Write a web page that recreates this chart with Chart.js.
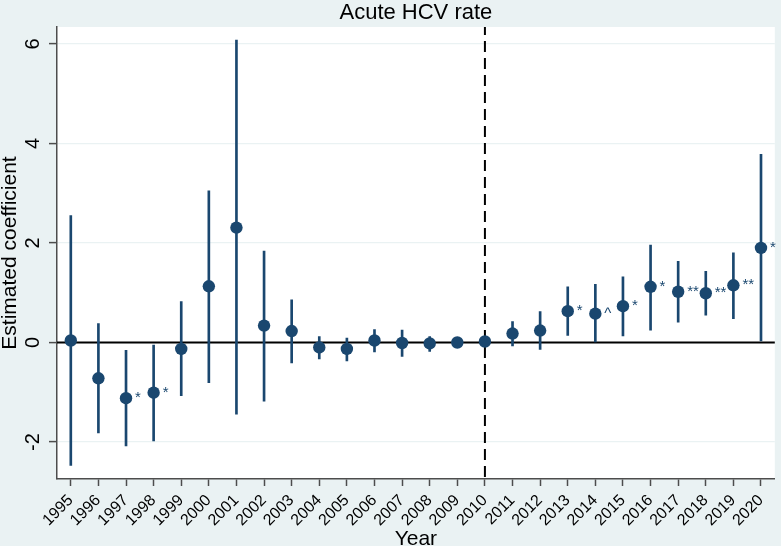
<!DOCTYPE html>
<html>
<head>
<meta charset="utf-8">
<script src="https://cdn.jsdelivr.net/npm/chart.js@4/dist/chart.umd.min.js"></script>
<style>
    html, body { margin: 0; padding: 0; background: #eaf2f3; }
    canvas { display: block; }
</style>
</head>
<body>
<canvas id="c" width="781" height="546"></canvas>
<script>
/* Event-study: коэффициенты по годам с 95% ДИ, Acute HCV rate */

const years = ['1995', '1996', '1997', '1998', '1999', '2000', '2001', '2002', '2003', '2004',
    '2005', '2006', '2007', '2008', '2009', '2010', '2011', '2012', '2013', '2014',
    '2015', '2016', '2017', '2018', '2019', '2020'];
const coef = [0.04, -0.72, -1.12, -1.01, -0.13, 1.13, 2.31, 0.34, 0.23, -0.10,
    -0.13, 0.04, -0.01, -0.02, 0.00, 0.02, 0.18, 0.24, 0.63, 0.58,
    0.73, 1.12, 1.02, 0.99, 1.15, 1.90];
const ciLow = [-2.47, -1.82, -2.08, -1.98, -1.07, -0.81, -1.44, -1.18, -0.41, -0.33,
    -0.37, -0.19, -0.28, -0.18, -0.02, 0.00, -0.07, -0.14, 0.14, 0.01,
    0.13, 0.25, 0.41, 0.55, 0.48, 0.03];
const ciHigh = [2.55, 0.38, -0.16, -0.05, 0.82, 3.05, 6.08, 1.84, 0.86, 0.12,
    0.09, 0.26, 0.25, 0.12, 0.02, 0.04, 0.42, 0.62, 1.12, 1.17,
    1.32, 1.96, 1.63, 1.43, 1.80, 3.78];
const sigMarks = ['', '', '*', '*', '', '', '', '', '', '',
    '', '', '', '', '', '', '', '', '*', '^',
    '*', '*', '**', '**', '**', '*'];
const yTicks = [-2, 0, 2, 4, 6];
const breakYear = '2010';

const NAVY = '#1a476f';
const BG = '#eaf2f3';
const AXIS = '#4d4d4d';
const FONT = '"Liberation Sans", Arial, sans-serif';

const decorPlugin = {
    id: 'decor',
    beforeDraw(chart) {
        const { ctx, chartArea: a } = chart;
        ctx.save();
        ctx.fillStyle = BG;
        ctx.fillRect(0, 0, chart.width, chart.height);
        ctx.fillStyle = '#fff';
        ctx.fillRect(a.left, a.top, a.right - a.left, a.bottom - a.top);
        ctx.restore();
    },
    beforeDatasetsDraw(chart) {
        const { ctx, chartArea: a, scales: { x, y } } = chart;
        ctx.save();
        // нулевая линия
        const y0 = y.getPixelForValue(0);
        ctx.strokeStyle = '#000';
        ctx.lineWidth = 2;
        ctx.beginPath();
        ctx.moveTo(a.left, y0);
        ctx.lineTo(a.right, y0);
        ctx.stroke();
        // пунктир на 2010
        const xb = x.getPixelForValue(years.indexOf(breakYear));
        ctx.setLineDash([11, 6]);
        ctx.lineDashOffset = 3;
        ctx.beginPath();
        ctx.moveTo(xb, a.top);
        ctx.lineTo(xb, a.bottom);
        ctx.stroke();
        ctx.restore();
    },
    afterDatasetsDraw(chart) {
        const { ctx, scales: { x, y } } = chart;
        ctx.save();
        ctx.fillStyle = NAVY;
        ctx.font = '15px ' + FONT;
        ctx.textAlign = 'left';
        ctx.textBaseline = 'middle';
        sigMarks.forEach((m, i) => {
            if (!m) return;
            ctx.fillText(m, x.getPixelForValue(i) + 9, y.getPixelForValue(coef[i]));
        });
        ctx.restore();
    },
    afterDraw(chart) {
        const { ctx, chartArea: a, scales: { x, y } } = chart;
        ctx.save();
        ctx.fillStyle = '#000';
        // заголовок
        ctx.font = '22px ' + FONT;
        ctx.textAlign = 'center';
        ctx.textBaseline = 'alphabetic';
        ctx.fillText('Acute HCV rate', (a.left + a.right) / 2, 19);
        // подпись оси X
        ctx.font = '21px ' + FONT;
        ctx.fillText('Year', (a.left + a.right) / 2, 545);
        // подпись оси Y
        ctx.save();
        ctx.translate(16, (a.top + a.bottom) / 2);
        ctx.rotate(-Math.PI / 2);
        ctx.fillText('Estimated coefficient', 0, 0);
        ctx.restore();
        // метки оси Y (вертикально)
        ctx.font = '20px ' + FONT;
        for (const v of yTicks) {
            ctx.save();
            ctx.translate(39, y.getPixelForValue(v));
            ctx.rotate(-Math.PI / 2);
            ctx.fillText(String(v), 0, 0);
            ctx.restore();
        }
        // метки оси X под 45°
        ctx.font = '16px ' + FONT;
        ctx.textAlign = 'right';
        years.forEach((yr, i) => {
            ctx.save();
            ctx.translate(x.getPixelForValue(i) + 3, 501);
            ctx.rotate(-Math.PI / 4);
            ctx.fillText(yr, 0, 0);
            ctx.restore();
        });
        ctx.restore();
    },
};

new Chart(document.getElementById('c'), {
    type: 'bar',
    data: {
        labels: years,
        datasets: [
            {
                type: 'line',
                data: coef,
                showLine: false,
                pointRadius: 6.2,
                pointHoverRadius: 6.2,
                pointBorderWidth: 0,
                pointBackgroundColor: NAVY,
                borderColor: NAVY,
                order: 0,
            },
            {
                type: 'bar',
                data: ciLow.map((lo, i) => [lo, ciHigh[i]]),
                backgroundColor: NAVY,
                borderWidth: 0,
                barThickness: 2,
                order: 1,
            },
        ],
    },
    options: {
        responsive: false,
        animation: false,
        devicePixelRatio: 1,
        layout: { padding: { top: 27, right: 1, left: 0, bottom: 0 } },
        plugins: { legend: { display: false }, tooltip: { enabled: false } },
        scales: {
            x: {
                offset: true,
                grid: { drawOnChartArea: false, offset: false, tickLength: 7, tickColor: AXIS, tickWidth: 1.5 },
                border: { color: AXIS, width: 1.5 },
                ticks: { display: false },
                afterFit: (s) => { s.height = 67; },
            },
            y: {
                min: -2.744,
                max: 6.342,
                grid: { color: BG, lineWidth: 1.2, tickLength: 8, tickColor: AXIS, tickWidth: 1.5 },
                border: { color: AXIS, width: 1.5 },
                ticks: { display: false },
                afterBuildTicks: (s) => { s.ticks = yTicks.map((v) => ({ value: v })); },
                afterFit: (s) => { s.width = 57; },
            },
        },
    },
    plugins: [decorPlugin],
});
</script>
</body>
</html>
